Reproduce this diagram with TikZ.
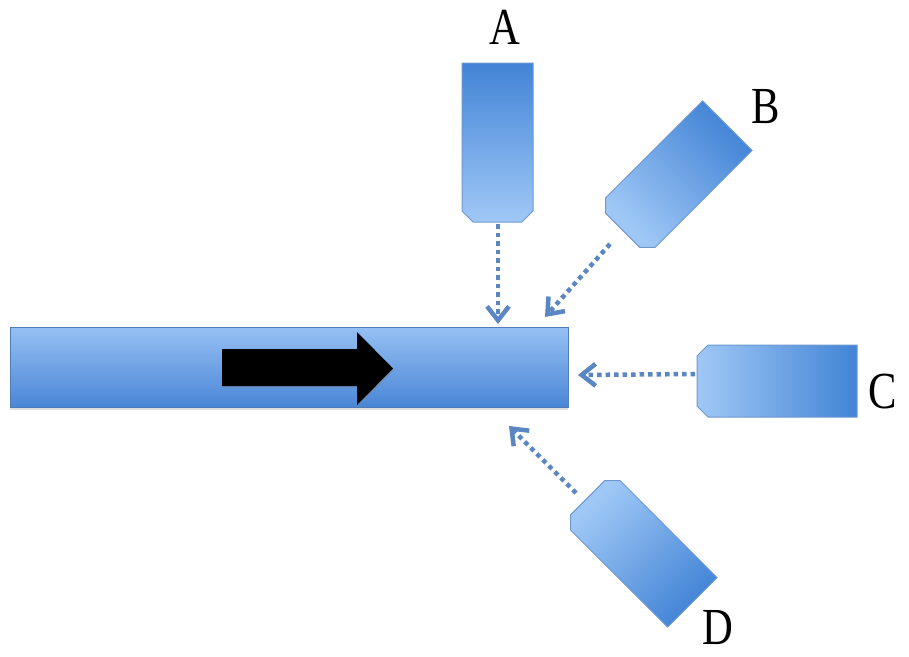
\documentclass[tikz,border=0pt]{standalone}
\usepackage{fontspec}
\newfontfamily\labfont[FakeStretch=0.82]{Liberation Serif}
\usetikzlibrary{arrows.meta,shadows}
\definecolor{plight}{HTML}{A0C8F6}
\definecolor{pdark}{HTML}{4284D6}
\definecolor{pborder}{HTML}{6D98D0}
\definecolor{blight}{HTML}{96C0F4}
\definecolor{bdark}{HTML}{4A86D6}
\definecolor{bborder}{HTML}{4F7CB8}
\definecolor{dotc}{HTML}{5A86C4}
\tikzset{
  probestyle/.style={top color=pdark, bottom color=plight, draw=pborder, line width=1pt},
  barstyle/.style={top color=blight, bottom color=bdark, draw=bborder, line width=1pt,
    drop shadow={opacity=0.25, shadow xshift=0pt, shadow yshift=-3pt}},
  flowarrow/.style={fill=black, draw=none,
    drop shadow={opacity=0.3, shadow xshift=1pt, shadow yshift=-1.5pt}},
  feed/.style={draw=dotc, line width=4.5pt, dash pattern=on 4.5pt off 4pt,
    -{Straight Barb[length=14pt, width=22pt, line width=4.5pt]}},
  lab/.style={font=\labfont\fontsize{52}{52}\selectfont, inner sep=0pt}
}
% #1 name, #2 #3 centre, #4 rotation, #5 length, #6 width, #7 shading angle
\newcommand\probe[7]{%
  \begin{scope}[shift={(#2,#3)},rotate=#4]
    \shade[probestyle, shading angle=#7] (-#5/2+11,-#6/2) -- (#5/2,-#6/2) -- (#5/2,#6/2) -- (-#5/2+11,#6/2)
      -- (-#5/2,#6/2-11) -- (-#5/2,-#6/2+11) -- cycle;
    \coordinate (#1) at (0,0);
  \end{scope}}
\begin{document}
\begin{tikzpicture}[x=1pt,y=-1pt]
\useasboundingbox (0,0) rectangle (909,656);
% main tube
\shade[barstyle] (10,327) rectangle (568,407);
% flow arrow
\fill[flowarrow] (222,349) -- (357,349) -- (357,332) -- (393,368.5) -- (357,405) -- (357,386) -- (222,386) -- cycle;
% probes
\probe{pA}{497.5}{142.5}{90}{159}{71}{0}
\probe{pB}{675}{178}{45}{148}{70}{-45}
\probe{pC}{777}{381}{0}{160}{72}{-90}
\probe{pD}{640}{550}{-45}{148}{70}{-135}
% connector ends
\coordinate (aS) at (498,224);
\coordinate (aT) at (498,324);
\coordinate (bS) at (610,244);
\coordinate (bT) at (545,317);
\coordinate (cS) at (695,374);
\coordinate (cT) at (578,375);
\coordinate (dS) at (576,493);
\coordinate (dT) at (509,426);
\draw[feed] (aS) -- (aT);
\draw[feed] (bS) -- (bT);
\draw[feed] (cS) -- (cT);
\draw[feed] (dS) -- (dT);
% labels
\node[lab] (lA) at (505,27) {A};
\node[lab] (lB) at (766,107) {B};
\node[lab] (lC) at (883,392) {C};
\node[lab] (lD) at (718,628) {D};
\end{tikzpicture}
\end{document}
